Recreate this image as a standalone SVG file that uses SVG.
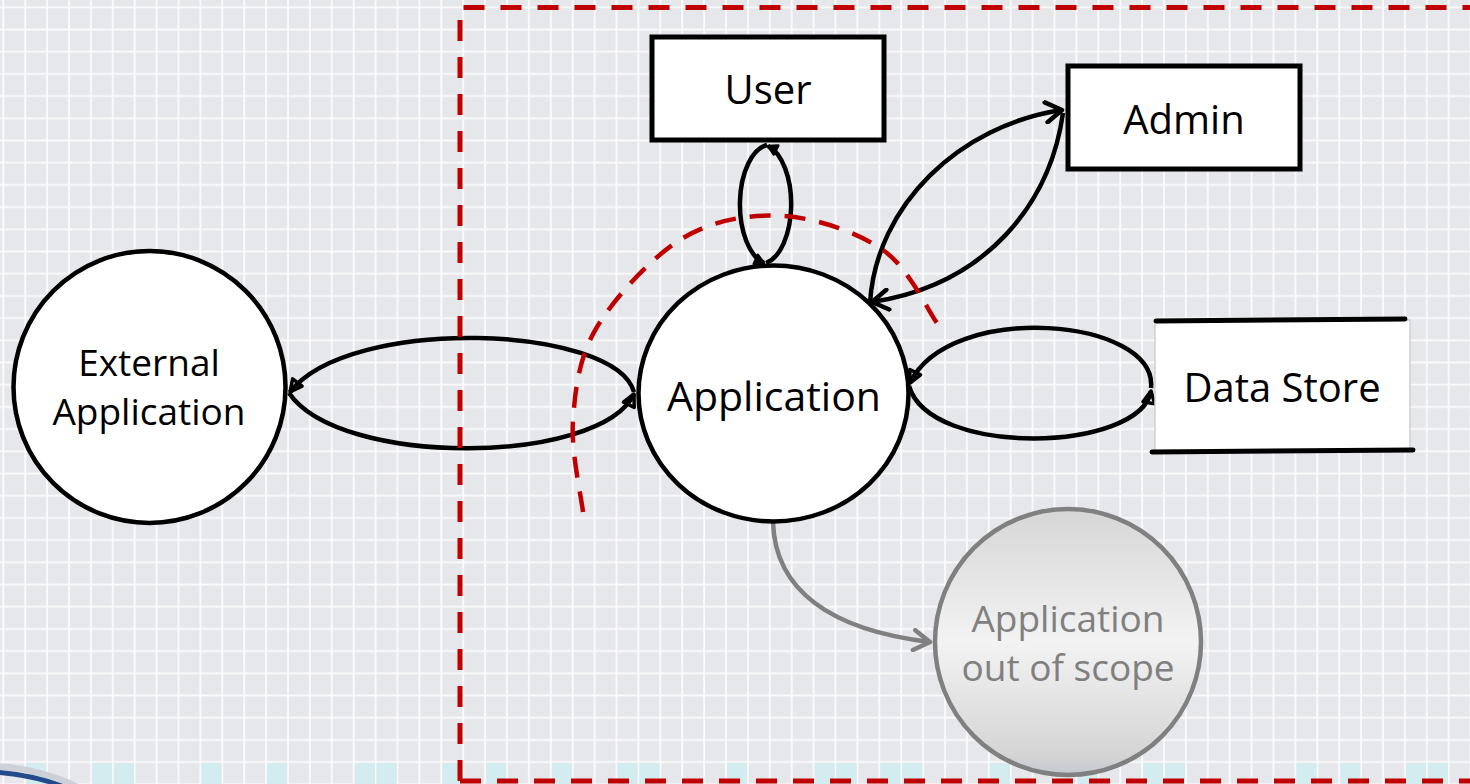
<svg xmlns="http://www.w3.org/2000/svg" width="1470" height="784" viewBox="0 0 1470 784">
  <defs>
    <pattern id="grid" patternUnits="userSpaceOnUse" x="-7.7" y="-3.8" width="21.9" height="22.2">
      <rect width="21.9" height="22.2" fill="#e6e7eb"/>
      <rect x="10.1" y="0" width="1.8" height="22.2" fill="#fbfbfc"/>
      <rect x="0" y="10.2" width="21.9" height="1.8" fill="#fbfbfc"/>
    </pattern>
    <linearGradient id="scopeFill" x1="0" y1="0" x2="0" y2="1">
      <stop offset="0" stop-color="#d6d6d6"/>
      <stop offset="0.5" stop-color="#f3f3f3"/>
      <stop offset="0.93" stop-color="#d4d4d4"/>
      <stop offset="1" stop-color="#c4c8d0"/>
    </linearGradient>
    <marker id="chev" markerUnits="userSpaceOnUse" viewBox="-20 -12 24 24" refX="0" refY="0" markerWidth="24" markerHeight="24" orient="auto">
      <path d="M -16 -10 L 0 0 L -16 10" fill="none" stroke="#000" stroke-width="4.5" stroke-linecap="round" stroke-linejoin="round"/>
    </marker>
    <marker id="chevGray" markerUnits="userSpaceOnUse" viewBox="-20 -12 24 24" refX="0" refY="0" markerWidth="24" markerHeight="24" orient="auto">
      <path d="M -16 -10 L 0 0 L -16 10" fill="none" stroke="#808080" stroke-width="4.5" stroke-linecap="round" stroke-linejoin="round"/>
    </marker>
    <marker id="tri" markerUnits="userSpaceOnUse" viewBox="-16 -10 20 20" refX="0" refY="0" markerWidth="20" markerHeight="20" orient="auto">
      <path d="M -12 -6 L 0 0 L -12 6 Z" fill="none" stroke="#000" stroke-width="3.5" stroke-linejoin="round"/>
    </marker>
    <marker id="dot" markerUnits="userSpaceOnUse" viewBox="-12 -8 16 16" refX="0" refY="0" markerWidth="16" markerHeight="16" orient="auto">
      <path d="M -9 -5 L 0 0 L -9 5 Z" fill="#000" stroke="#000" stroke-width="2.5" stroke-linejoin="round"/>
    </marker>
    <style>
      .lbl { font-family: "Open Sans", "Liberation Sans", sans-serif; fill: #000; text-anchor: middle; }
      .box { fill: #fff; stroke: #000; stroke-width: 5; }
      .node { fill: #fff; stroke: #000; stroke-width: 4.5; }
      .flow { fill: none; stroke: #000; stroke-width: 4.5; }
      .scope { fill: none; stroke: #c00000; stroke-width: 5; stroke-dasharray: 21 16; }
    </style>
  </defs>

  <!-- background grid -->
  <rect width="1470" height="784" fill="url(#grid)"/>
  <g id="band" fill="#d3ecef">
    <rect x="26.3" y="763" width="20" height="21"/>
    <rect x="92" y="763" width="20" height="21"/>
    <rect x="113.9" y="763" width="20" height="21"/>
    <rect x="201.5" y="763" width="20" height="21"/>
    <rect x="267.2" y="763" width="20" height="21"/>
    <rect x="354.8" y="763" width="20" height="21"/>
    <rect x="376.7" y="763" width="20" height="21"/>
    <rect x="442.4" y="763" width="20" height="21"/>
    <rect x="486.2" y="763" width="20" height="21"/>
    <rect x="551.9" y="763" width="20" height="21"/>
    <rect x="617.6" y="763" width="20" height="21"/>
    <rect x="639.5" y="763" width="20" height="21"/>
    <rect x="727.1" y="763" width="20" height="21"/>
    <rect x="814.7" y="763" width="20" height="21"/>
    <rect x="836.6" y="763" width="20" height="21"/>
    <rect x="880.4" y="763" width="20" height="21"/>
    <rect x="902.3" y="763" width="20" height="21"/>
    <rect x="989.9" y="763" width="20" height="21"/>
    <rect x="1077.5" y="763" width="20" height="21"/>
    <rect x="1143.2" y="763" width="20" height="21"/>
    <rect x="1165.1" y="763" width="20" height="21"/>
    <rect x="1296.5" y="763" width="20" height="21"/>
    <rect x="1340.3" y="763" width="20" height="21"/>
    <rect x="1406" y="763" width="20" height="21"/>
    <rect x="1427.9" y="763" width="20" height="21"/>
  </g>
  <g id="corner-mark" fill="none">
    <path d="M -5 766 Q 40 769 76 786" stroke="#cdd0d6" stroke-width="6"/>
    <path d="M -5 772 Q 35 775 64 787" stroke="#24498c" stroke-width="5"/>
  </g>

  <!-- connectors -->
  <g id="connectors">
    <!-- User <-> Application loop -->
    <path class="flow" d="M 767 145 A 31 60 0 0 0 764 263" marker-end="url(#dot)"/>
    <path class="flow" d="M 766 263 A 31 60 0 0 0 768 146" marker-end="url(#dot)"/>
    <!-- Application <-> Admin -->
    <path class="flow" d="M 870 303 C 876 205, 960 125, 1062 110" marker-end="url(#chev)"/>
    <path class="flow" d="M 1063 113 C 1050 205, 985 285, 872 302" marker-end="url(#chev)"/>
    <!-- External Application <-> Application -->
    <path class="flow" d="M 634 392 C 615 325, 350 315, 290 392" marker-end="url(#tri)"/>
    <path class="flow" d="M 289 393 C 340 468, 600 465, 634 394" marker-end="url(#tri)"/>
    <!-- Application <-> Data Store -->
    <path class="flow" d="M 1151 388 C 1158 318, 950 300, 910 383" marker-end="url(#tri)"/>
    <path class="flow" d="M 909 386 C 930 458, 1140 452, 1151 391" marker-end="url(#tri)"/>
    <!-- Application -> out of scope -->
    <path d="M 773 522 C 775 590, 830 630, 930 642" fill="none" stroke="#808080" stroke-width="4.5" marker-end="url(#chevGray)"/>
  </g>

  <!-- trust boundaries -->
  <g id="boundaries">
    <path class="scope" d="M 460 781 L 460 7.5 L 1480 7.5 M 460 781 L 1480 781"/>
    <path d="M 583 512 C 581.3 496.7, 570.7 450.8, 573 420 C 575.3 389.2, 578.7 357.3, 597 327 C 615.3 296.7, 652 256.5, 683 238 C 714 219.5, 749.7 214, 783 216 C 816.3 218, 857.3 232.2, 883 250 C 908.7 267.8, 928 310.8, 937 323" fill="none" stroke="#c00000" stroke-width="4.5" stroke-dasharray="21 14"/>
  </g>

  <!-- nodes -->
  <g id="external-application">
    <circle class="node" cx="149.5" cy="387" r="136"/>
    <text class="lbl" x="149" y="376" font-size="37">External</text>
    <text class="lbl" x="149" y="425" font-size="37">Application</text>
  </g>
  <g id="application">
    <ellipse class="node" cx="773.5" cy="393.5" rx="135" ry="128"/>
    <text class="lbl" x="774" y="411" font-size="41">Application</text>
  </g>
  <g id="user">
    <rect class="box" x="652" y="37" width="232" height="103"/>
    <text class="lbl" x="768" y="104" font-size="40">User</text>
  </g>
  <g id="admin">
    <rect class="box" x="1068" y="66" width="232" height="103"/>
    <text class="lbl" x="1184" y="134" font-size="40">Admin</text>
  </g>
  <g id="data-store">
    <rect x="1155" y="320" width="255" height="131" fill="#fff" stroke="#cfcfd2" stroke-width="1.5"/>
    <path d="M 1156 321 L 1405 319 M 1152 452 L 1413 450" fill="none" stroke="#000" stroke-width="5" stroke-linecap="round"/>
    <text class="lbl" x="1282" y="402" font-size="40">Data Store</text>
  </g>
  <g id="out-of-scope">
    <circle cx="1068" cy="642" r="133" fill="url(#scopeFill)" stroke="#808080" stroke-width="4.5"/>
    <text class="lbl" x="1068" y="632" font-size="37" style="fill:#808080">Application</text>
    <text class="lbl" x="1068" y="681" font-size="37" style="fill:#808080">out of scope</text>
  </g>
</svg>
